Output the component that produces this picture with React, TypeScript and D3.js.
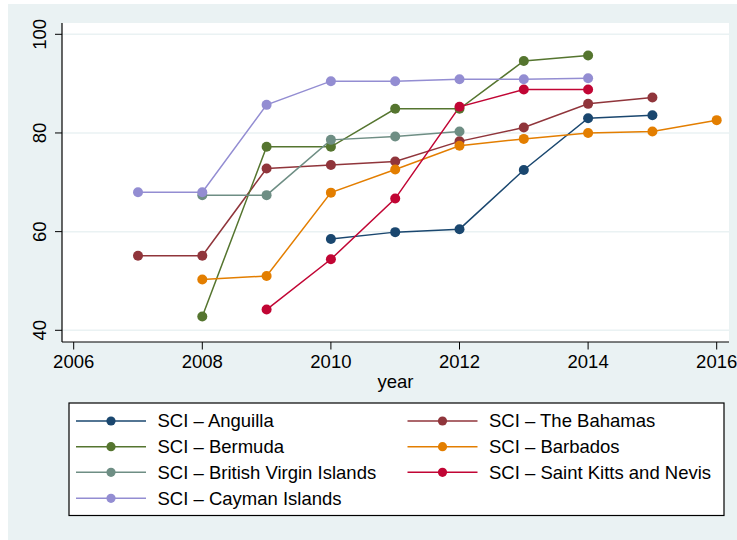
import React from "react";
import * as d3 from "d3";

const anguillaYears = [2010, 2011, 2012, 2013, 2014, 2015];
const anguilla = [58.5, 59.9, 60.5, 72.5, 83.0, 83.6];
const bahamasYears = [2007, 2008, 2009, 2010, 2011, 2012, 2013, 2014, 2015];
const bahamas = [55.1, 55.1, 72.8, 73.5, 74.2, 78.3, 81.1, 85.9, 87.2];
const bermudaYears = [2008, 2009, 2010, 2011, 2012, 2013, 2014];
const bermuda = [42.8, 77.2, 77.2, 84.9, 84.9, 94.6, 95.7];
const barbadosYears = [2008, 2009, 2010, 2011, 2012, 2013, 2014, 2015, 2016];
const barbados = [50.3, 51.0, 67.9, 72.6, 77.4, 78.8, 80.0, 80.3, 82.6];
const bviYears = [2008, 2009, 2010, 2011, 2012];
const bvi = [67.4, 67.4, 78.6, 79.3, 80.3];
const skitsYears = [2009, 2010, 2011, 2012, 2013, 2014];
const skits = [44.2, 54.4, 66.7, 85.3, 88.8, 88.8];
const caymanYears = [2007, 2008, 2009, 2010, 2011, 2012, 2013, 2014];
const cayman = [68.0, 68.0, 85.7, 90.5, 90.5, 90.9, 90.9, 91.1];

const seriesNames = [
  "SCI – Anguilla",
  "SCI – The Bahamas",
  "SCI – Bermuda",
  "SCI – Barbados",
  "SCI – British Virgin Islands",
  "SCI – Saint Kitts and Nevis",
  "SCI – Cayman Islands",
];
const seriesColors = ["#1a476f", "#90353b", "#55752f", "#e37e00", "#6e8e84", "#c10534", "#938dd2"];
const seriesYears = [anguillaYears, bahamasYears, bermudaYears, barbadosYears, bviYears, skitsYears, caymanYears];
const seriesValues = [anguilla, bahamas, bermuda, barbados, bvi, skits, cayman];

const xTicks = [2006, 2008, 2010, 2012, 2014, 2016];
const yTicks = [40, 60, 80, 100];

export default function App() {
  const W = 737;
  const H = 540;
  const plotL = 62, plotR = 729, plotT = 23, plotB = 342;
  const x = d3.scaleLinear().domain([2006, 2016]).range([73.7, 716.7]);
  const y = d3.scaleLinear().domain([40, 100]).range([330.3, 34.3]);
  const font = "'Liberation Sans', Arial, Helvetica, sans-serif";

  const series = seriesNames.map((name, i) => ({
    name,
    color: seriesColors[i],
    pts: seriesYears[i].map((yr, j) => ({ yr, v: seriesValues[i][j] })),
  }));

  const line = d3
    .line<{ yr: number; v: number }>()
    .x((d) => x(d.yr))
    .y((d) => y(d.v));

  const legL = 69, legR = 724, legT = 403, legB = 515.5;
  const rowY = [421, 446.7, 472.3, 498.3];
  const colX = [76, 407.5];
  const keyLen = 70;

  return (
    <svg
      width={W}
      height={H}
      style={{ position: "absolute", left: 0, top: 0, display: "block" }}
      fontFamily={font}
    >
      <rect x={0} y={0} width={W} height={H} fill="#ffffff" />
      <rect x={8} y={4} width={W - 8} height={H - 4} fill="#eaf2f3" />
      <rect x={plotL} y={plotT} width={plotR - plotL} height={plotB - plotT} fill="#ffffff" />

      {yTicks.map((t) => (
        <line key={"g" + t} x1={plotL} x2={plotR} y1={y(t)} y2={y(t)} stroke="#eaf2f3" strokeWidth={1.5} />
      ))}

      {series.map((s) => (
        <path key={"l" + s.name} d={line(s.pts) || ""} fill="none" stroke={s.color} strokeWidth={1.5} />
      ))}
      {series.map((s) =>
        s.pts.map((p) => (
          <circle key={s.name + p.yr} cx={x(p.yr)} cy={y(p.v)} r={5} fill={s.color} />
        ))
      )}

      <line x1={plotL} x2={plotL} y1={plotT} y2={plotB} stroke="#000" strokeWidth={1.2} />
      <line x1={plotL} x2={plotR} y1={plotB} y2={plotB} stroke="#000" strokeWidth={1.2} />
      {yTicks.map((t) => (
        <g key={"yt" + t}>
          <line x1={55} x2={plotL} y1={y(t)} y2={y(t)} stroke="#000" strokeWidth={1} />
          <text
            transform={`translate(45.5,${y(t)}) rotate(-90)`}
            textAnchor="middle"
            fontSize={18.5}
            fill="#000"
          >
            {t}
          </text>
        </g>
      ))}
      {xTicks.map((t) => (
        <g key={"xt" + t}>
          <line x1={x(t)} x2={x(t)} y1={plotB} y2={349.5} stroke="#000" strokeWidth={1} />
          <text x={x(t)} y={367.5} textAnchor="middle" fontSize={18.5} fill="#000">
            {t}
          </text>
        </g>
      ))}
      <text x={(plotL + plotR) / 2} y={388} textAnchor="middle" fontSize={18.5} fill="#000">
        year
      </text>

      <rect x={legL} y={legT} width={legR - legL} height={legB - legT} fill="#ffffff" stroke="#000" strokeWidth={1.2} />
      {series.map((s, i) => {
        const col = i % 2;
        const row = Math.floor(i / 2);
        const lx = colX[col];
        const ly = rowY[row];
        return (
          <g key={"leg" + s.name}>
            <line x1={lx} x2={lx + keyLen} y1={ly} y2={ly} stroke={s.color} strokeWidth={1.5} />
            <circle cx={lx + keyLen / 2} cy={ly} r={4.6} fill={s.color} />
            <text x={lx + 81.5} y={ly} dy="0.35em" fontSize={18.5} fill="#000">
              {s.name}
            </text>
          </g>
        );
      })}
    </svg>
  );
}
